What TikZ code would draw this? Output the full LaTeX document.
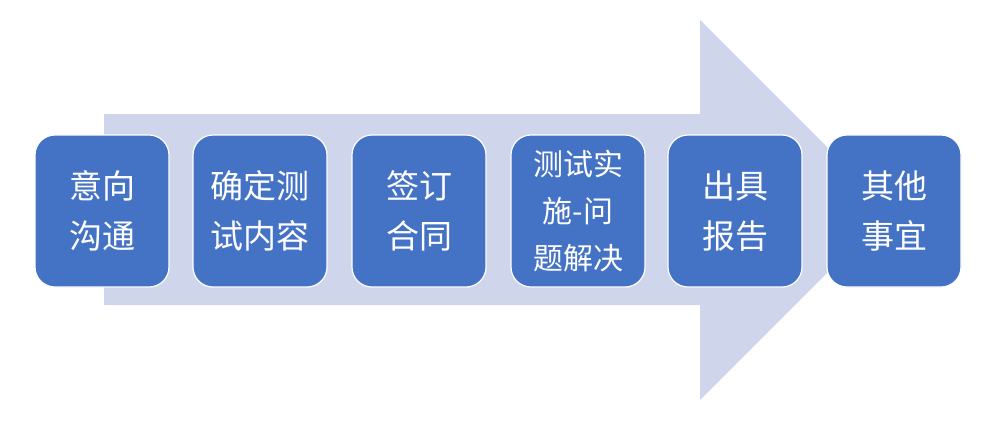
\documentclass[tikz,border=0pt]{standalone}
\usepackage{fontspec}
\newfontfamily\cjk{Noto Sans CJK SC}
\definecolor{arrowfill}{HTML}{CFD5EA}
\definecolor{boxfill}{HTML}{4472C4}
\tikzset{
  stepbox/.style={draw=white, line width=1.2pt, fill=boxfill, rounded corners=20pt,
    minimum width=134pt, minimum height=152pt, inner sep=0pt,
    text=white, align=center, font=\cjk\fontsize{33}{50}\selectfont},
  smallbox/.style={stepbox, font=\cjk\fontsize{30}{47}\selectfont}
}
\begin{document}
\begin{tikzpicture}[x=1pt,y=-1pt]
\useasboundingbox (0,0) rectangle (988,421);
\fill[white] (0,0) rectangle (988,421);
\fill[arrowfill] (104,114) -- (700,114) -- (700,20) -- (890,210) -- (700,400) -- (700,305) -- (104,305) -- cycle;
\node[stepbox] (s1) at (102,211) {意向\\沟通};
\node[stepbox] (s2) at (260,211) {确定测\\试内容};
\node[stepbox] (s3) at (419,211) {签订\\合同};
\node[smallbox] (s4) at (578,211) {测试实\\施-问\\题解决};
\node[stepbox] (s5) at (735,211) {出具\\报告};
\node[stepbox] (s6) at (894,211) {其他\\事宜};
\end{tikzpicture}
\end{document}
